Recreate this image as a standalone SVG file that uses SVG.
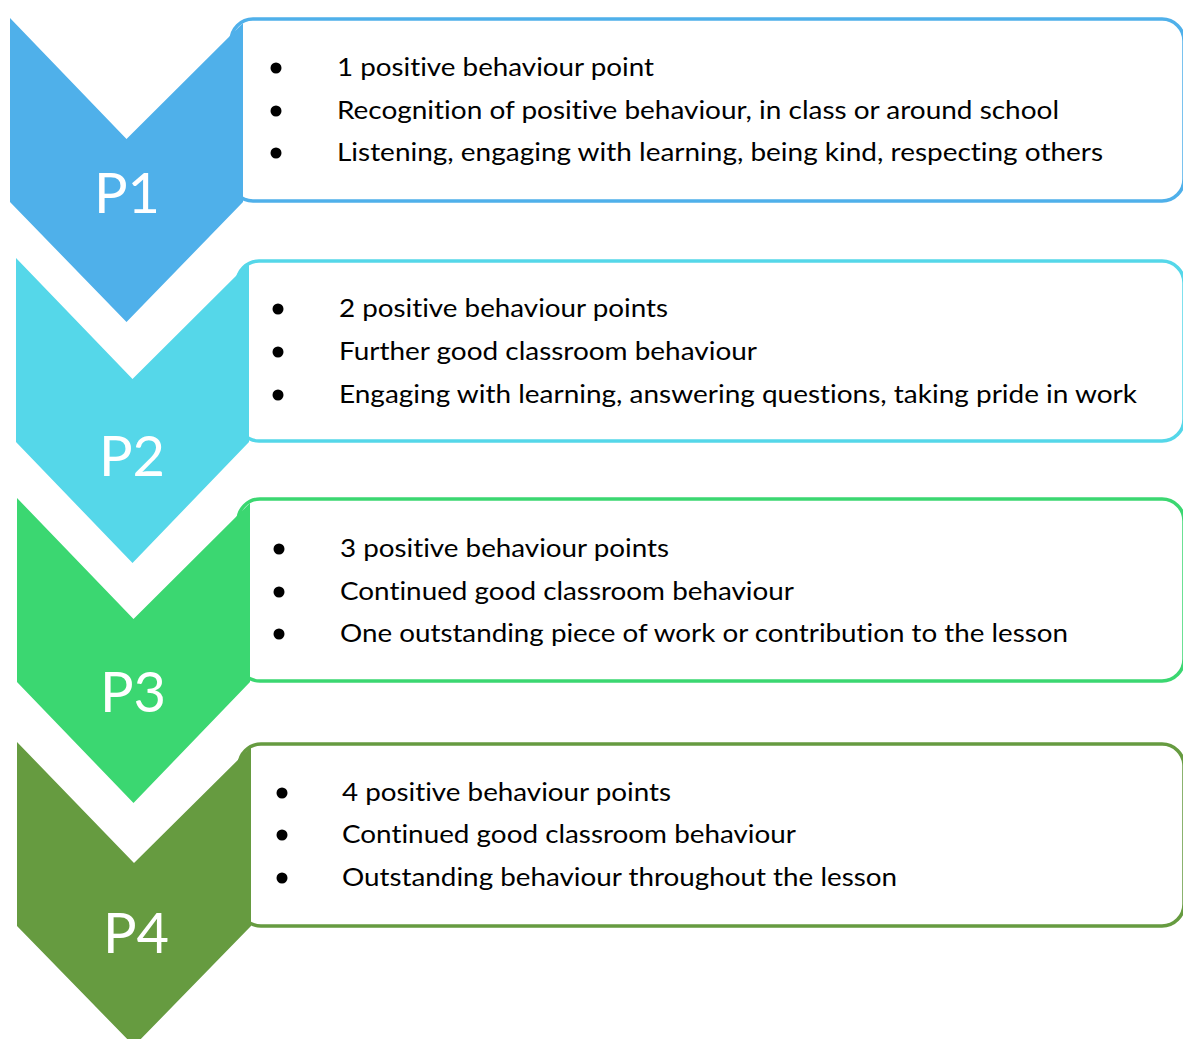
<svg xmlns="http://www.w3.org/2000/svg" width="1183" height="1039" viewBox="0 0 1183 1039">
<style>
.box{fill:#fff;stroke-width:3.5}
.t{font-family:Lato,"Open Sans","Liberation Sans",sans-serif;font-size:25px;fill:#000;font-variant-ligatures:none;font-feature-settings:"liga" 0,"clig" 0}
.lbl{font-family:Lato,"Open Sans","Liberation Sans",sans-serif;font-size:56px;fill:#fff;text-anchor:middle}
.b{fill:#000}
</style>
<rect width="1183" height="1039" fill="#fff"/>
<g id="p1">
<rect class="box" x="231" y="19" width="953" height="182" rx="22" stroke="#4FB0EA"/>
<polygon points="10,18 126.5,139 243,23 243,202 126.5,322 10,202" fill="#4FB0EA"/>
<text class="lbl" x="127" y="213">P1</text>
<circle class="b" cx="276" cy="68" r="5.5"/><circle class="b" cx="276" cy="111" r="5.5"/><circle class="b" cx="276" cy="153" r="5.5"/>
<text class="t" x="337" y="76" textLength="317" lengthAdjust="spacingAndGlyphs">1 positive behaviour point</text>
<text class="t" x="337" y="119" textLength="722" lengthAdjust="spacingAndGlyphs">Recognition of positive behaviour, in class or around school</text>
<text class="t" x="337" y="161" textLength="766" lengthAdjust="spacingAndGlyphs">Listening, engaging with learning, being kind, respecting others</text>
</g>
<g id="p2">
<rect class="box" x="237" y="261" width="947" height="180" rx="22" stroke="#55D7E9"/>
<polygon points="16,258 132.5,379 249,263 249,442 132.5,563 16,442" fill="#55D7E9"/>
<text class="lbl" x="132" y="476">P2</text>
<circle class="b" cx="278" cy="309" r="5.5"/><circle class="b" cx="278" cy="352" r="5.5"/><circle class="b" cx="278" cy="395" r="5.5"/>
<text class="t" x="339" y="317" textLength="329" lengthAdjust="spacingAndGlyphs">2 positive behaviour points</text>
<text class="t" x="339" y="360" textLength="418" lengthAdjust="spacingAndGlyphs">Further good classroom behaviour</text>
<text class="t" x="339" y="403" textLength="798" lengthAdjust="spacingAndGlyphs">Engaging with learning, answering questions, taking pride in work</text>
</g>
<g id="p3">
<rect class="box" x="238" y="499" width="946" height="182" rx="22" stroke="#3BD771"/>
<polygon points="17,498 133.5,619 250,503 250,682 133.5,803 17,682" fill="#3BD771"/>
<text class="lbl" x="133" y="712">P3</text>
<circle class="b" cx="279" cy="549" r="5.5"/><circle class="b" cx="279" cy="592" r="5.5"/><circle class="b" cx="279" cy="634" r="5.5"/>
<text class="t" x="340" y="557" textLength="329" lengthAdjust="spacingAndGlyphs">3 positive behaviour points</text>
<text class="t" x="340" y="600" textLength="454" lengthAdjust="spacingAndGlyphs">Continued good classroom behaviour</text>
<text class="t" x="340" y="642" textLength="728" lengthAdjust="spacingAndGlyphs">One outstanding piece of work or contribution to the lesson</text>
</g>
<g id="p4">
<rect class="box" x="239" y="744" width="945" height="182" rx="22" stroke="#669B40"/>
<polygon points="17,742 134,863 251,747 251,926 134,1046 17,926" fill="#669B40"/>
<text class="lbl" x="136" y="953">P4</text>
<circle class="b" cx="282" cy="793" r="5.5"/><circle class="b" cx="282" cy="835" r="5.5"/><circle class="b" cx="282" cy="878" r="5.5"/>
<text class="t" x="342" y="801" textLength="329" lengthAdjust="spacingAndGlyphs">4 positive behaviour points</text>
<text class="t" x="342" y="843" textLength="454" lengthAdjust="spacingAndGlyphs">Continued good classroom behaviour</text>
<text class="t" x="342" y="886" textLength="555" lengthAdjust="spacingAndGlyphs">Outstanding behaviour throughout the lesson</text>
</g>
<g id="connectors"/>
</svg>
